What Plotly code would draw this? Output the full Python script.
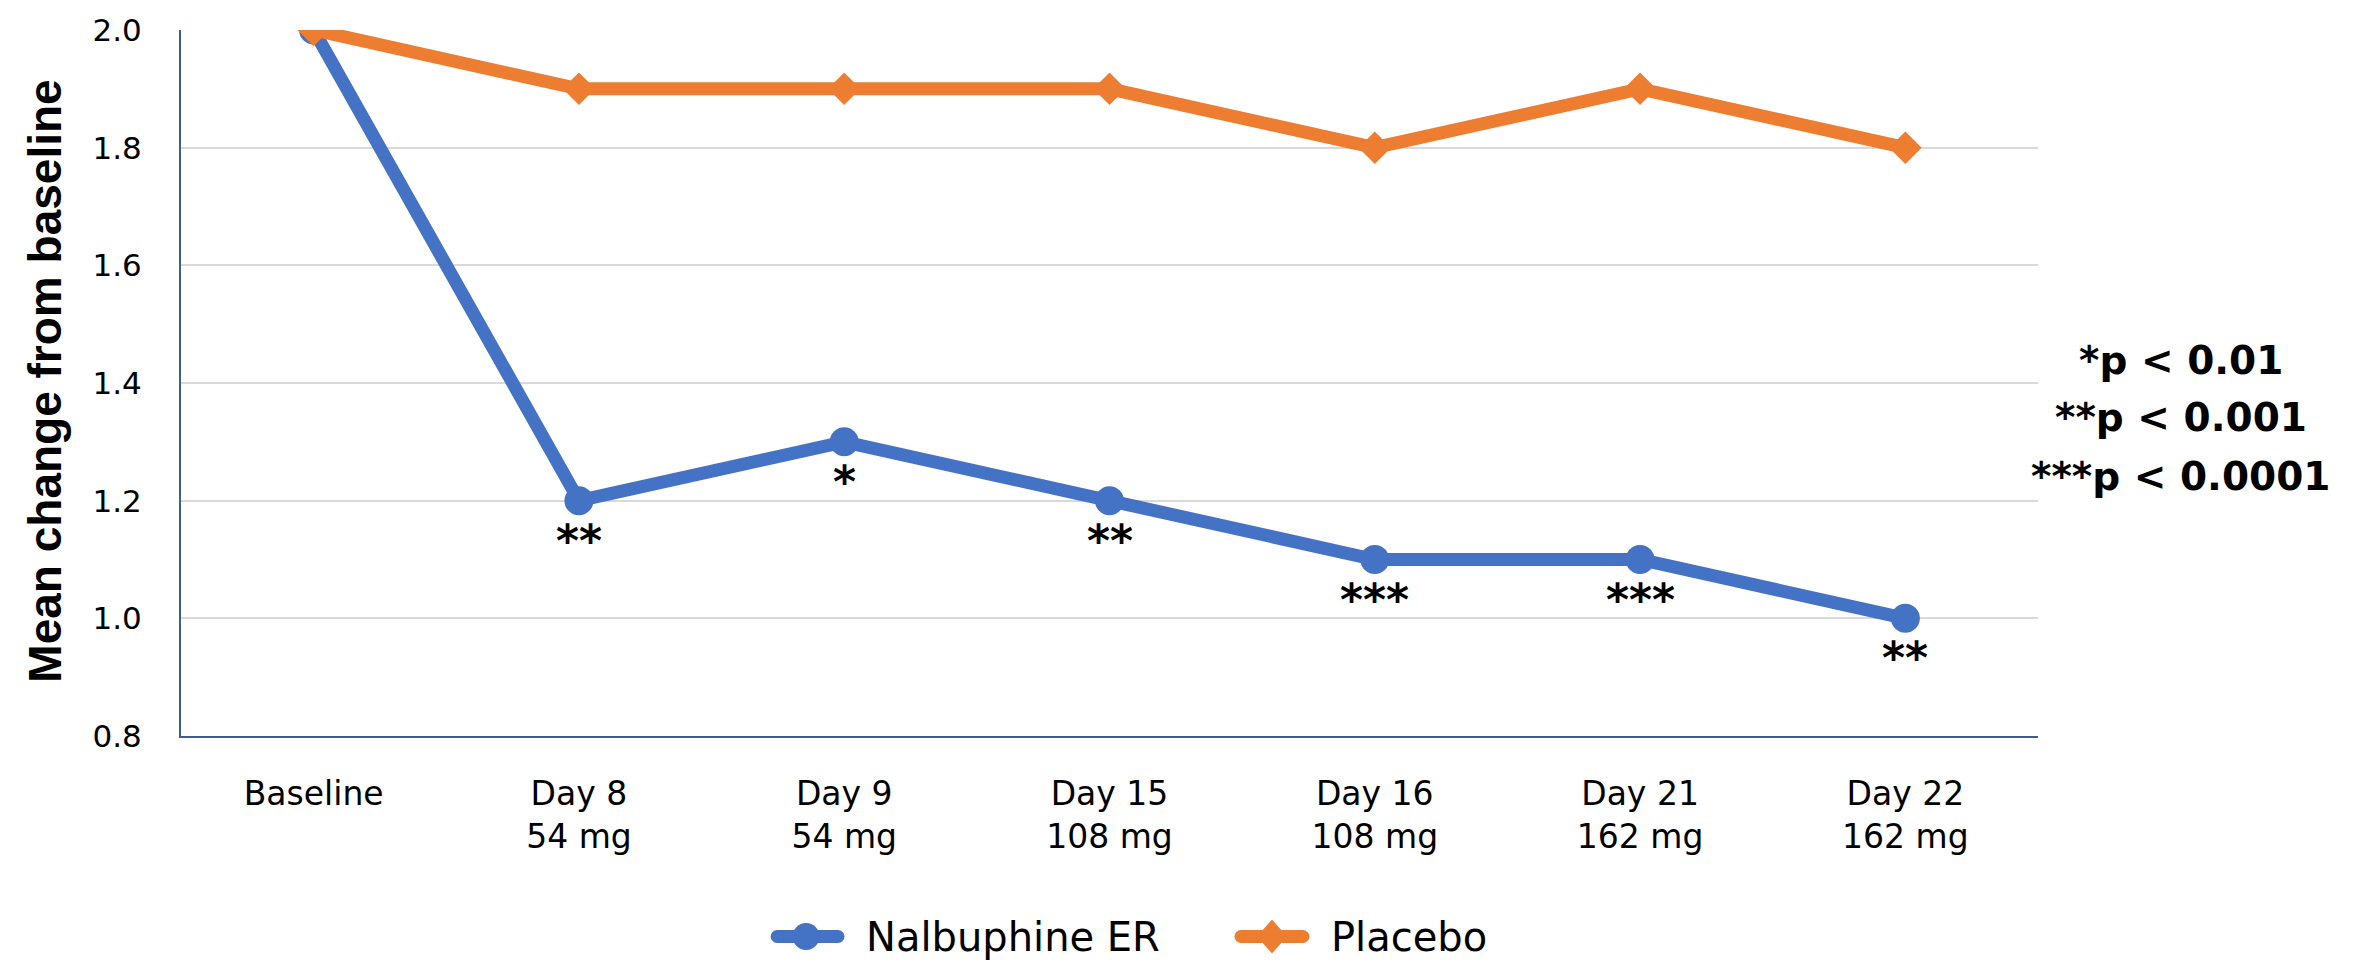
import plotly.graph_objects as go

# Visit labels (tick text) and series values
visits = ["Baseline", "Day 8<br>54 mg", "Day 9<br>54 mg", "Day 15<br>108 mg",
          "Day 16<br>108 mg", "Day 21<br>162 mg", "Day 22<br>162 mg"]
nalbuphine_er = [2.0, 1.2, 1.3, 1.2, 1.1, 1.1, 1.0]
placebo = [2.0, 1.9, 1.9, 1.9, 1.8, 1.9, 1.8]
significance = ["", "**", "*", "**", "***", "***", "**"]
p_value_key = ["*p < 0.01", "**p < 0.001", "***p < 0.0001"]
y_ticks = [0.8, 1.0, 1.2, 1.4, 1.6, 1.8, 2.0]
series_names = ["Nalbuphine ER", "Placebo"]

BLUE = "#4472C4"
ORANGE = "#ED7D31"
AXIS = "#3E5D8C"
GRID = "#D9D9D9"
TICK_FONT = "DejaVu Sans"
LINE_W = 13

x_idx = list(range(len(visits)))

fig = go.Figure()
fig.add_trace(go.Scatter(
    x=x_idx, y=nalbuphine_er, name=series_names[0], mode="lines+markers",
    line=dict(color=BLUE, width=LINE_W),
    marker=dict(symbol="circle", size=29, color=BLUE),
))
fig.add_trace(go.Scatter(
    x=x_idx, y=placebo, name=series_names[1], mode="lines+markers",
    line=dict(color=ORANGE, width=LINE_W),
    marker=dict(symbol="diamond", size=25, color=ORANGE),
))

# Significance stars under each Nalbuphine ER point
for xi, yv, s in zip(x_idx, nalbuphine_er, significance):
    if s:
        fig.add_annotation(
            x=xi, y=yv, text=s, showarrow=False, xanchor="center", yanchor="top",
            yshift=-12, font=dict(family="DejaVu Sans", size=44, color="black", weight="bold"),
        )

# p-value key at the right of the plot
for txt, py in zip(p_value_key, [0.532, 0.451, 0.367]):
    fig.add_annotation(
        xref="paper", yref="paper", x=1.077, y=py, text=txt, showarrow=False,
        xanchor="center", yanchor="middle",
        font=dict(family="DejaVu Sans", size=39, color="black", weight="bold"),
    )

# Y-axis title
fig.add_annotation(
    xref="paper", yref="paper", x=-0.0732, y=0.502, text="Mean change from baseline",
    textangle=-90, showarrow=False, xanchor="center", yanchor="middle",
    font=dict(family="Liberation Sans", size=46, color="black", weight="bold"),
)

# Legend below the plot: line sample with marker, then series name
legend_y = -0.284
legend_items = [
    (series_names[0], BLUE, "circle", 0.3210, 0.3538, 0.3366, 0.3678),
    (series_names[1], ORANGE, "diamond", 0.5708, 0.6042, 0.5875, 0.6182),
]
for name, color, sym, lx0, lx1, cx, tx in legend_items:
    fig.add_shape(type="line", xref="paper", yref="paper",
                  x0=lx0, x1=lx1, y0=legend_y, y1=legend_y,
                  line=dict(color=color, width=LINE_W))
    for ex in (lx0, lx1):
        fig.add_shape(type="circle", xref="paper", yref="paper",
                      xsizemode="pixel", ysizemode="pixel", xanchor=ex, yanchor=legend_y,
                      x0=-6.5, x1=6.5, y0=-6.5, y1=6.5,
                      fillcolor=color, line=dict(width=0))
    if sym == "circle":
        fig.add_shape(type="circle", xref="paper", yref="paper",
                      xsizemode="pixel", ysizemode="pixel", xanchor=cx, yanchor=legend_y,
                      x0=-13.5, x1=13.5, y0=-13.5, y1=13.5,
                      fillcolor=color, line=dict(width=0))
    else:
        fig.add_shape(type="path", xref="paper", yref="paper",
                      xsizemode="pixel", ysizemode="pixel", xanchor=cx, yanchor=legend_y,
                      path="M -15 0 L 0 17 L 15 0 L 0 -17 Z",
                      fillcolor=color, line=dict(width=0))
    fig.add_annotation(
        xref="paper", yref="paper", x=tx, y=legend_y, text=name, showarrow=False,
        xanchor="left", yanchor="middle",
        font=dict(family=TICK_FONT, size=40, color="black"),
    )

fig.update_layout(
    width=2364, height=960,
    margin=dict(l=181, r=326, t=27, b=224),
    paper_bgcolor="white", plot_bgcolor="white",
    showlegend=False,
    xaxis=dict(
        range=[-0.5, len(visits) - 0.5],
        tickmode="array", tickvals=x_idx, ticktext=visits,
        showgrid=False, zeroline=False,
        showline=True, linecolor=AXIS, linewidth=2,
        ticks="", ticklabelstandoff=27,
        tickfont=dict(family=TICK_FONT, size=33, color="black"),
    ),
    yaxis=dict(
        range=[0.8, 2.0],
        tickmode="array", tickvals=y_ticks, ticktext=[f"{v:.1f}" for v in y_ticks],
        showgrid=True, gridcolor=GRID, gridwidth=2, zeroline=False,
        showline=True, linecolor=AXIS, linewidth=2,
        ticks="", ticklabelstandoff=31,
        tickfont=dict(family=TICK_FONT, size=31, color="black"),
    ),
)

fig.write_html("out.html")
